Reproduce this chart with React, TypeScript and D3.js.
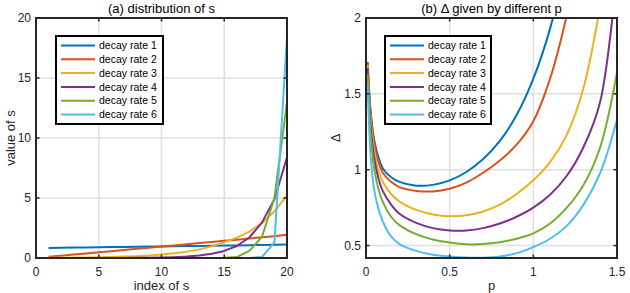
import React, { useEffect, useRef } from 'react';
import * as d3 from 'd3';

// MATLAB default line colours
const lineColors = ['#0072BD', '#D95319', '#EDB120', '#7E2F8E', '#77AC30', '#4DBEEE'];
const seriesNames = ['decay rate 1', 'decay rate 2', 'decay rate 3', 'decay rate 4', 'decay rate 5', 'decay rate 6'];

// (a) distribution of s
const sIndex = [1, 2, 3, 4, 5, 6, 7, 8, 9, 10, 11, 12, 13, 14, 15, 16, 17, 18, 19, 20];
const sRate1 = [0.84, 0.85, 0.87, 0.88, 0.89, 0.91, 0.92, 0.93, 0.95, 0.96, 0.98, 0.99, 1.01, 1.02, 1.04, 1.05, 1.07, 1.08, 1.1, 1.12];
const sRate2 = [0.1, 0.19, 0.29, 0.38, 0.48, 0.57, 0.67, 0.77, 0.86, 0.96, 1.05, 1.15, 1.24, 1.34, 1.43, 1.53, 1.62, 1.72, 1.82, 1.93];
const sRate3 = [0.019, 0.026, 0.035, 0.047, 0.063, 0.085, 0.115, 0.155, 0.21, 0.29, 0.39, 0.53, 0.72, 0.97, 1.3, 1.7, 2.2, 2.9, 3.9, 5.2];
const sRate4 = [0.0004, 0.0006, 0.001, 0.002, 0.003, 0.005, 0.008, 0.014, 0.024, 0.04, 0.07, 0.12, 0.2, 0.35, 0.59, 1.0, 1.71, 2.95, 4.9, 8.4];
const sRate5 = [0, 0, 0, 0, 0, 0, 0, 0, 0, 0, 0, 0.001, 0.004, 0.01, 0.03, 0.08, 0.6, 1.75, 5.0, 13.0];
const sRate6 = [0, 0, 0, 0, 0, 0, 0, 0, 0, 0, 0, 0, 0, 0, 0, 0, 0.005, 0.08, 1.3, 18.4];

// (b) Delta given by different p
const pValues = [0.01, 0.02, 0.03, 0.05, 0.075, 0.1, 0.15, 0.2, 0.3, 0.4, 0.5, 0.6, 0.7, 0.8, 0.9, 1.0, 1.1, 1.2, 1.3, 1.4, 1.5];
const dRate1 = [1.71, 1.5, 1.36, 1.19, 1.08, 1.01, 0.95, 0.92, 0.895, 0.9, 0.93, 0.985, 1.07, 1.19, 1.36, 1.6, 1.93, 2.4, 3.0, 3.7, 4.5];
const dRate2 = [1.7, 1.48, 1.34, 1.17, 1.05, 0.98, 0.92, 0.885, 0.86, 0.857, 0.875, 0.915, 0.98, 1.06, 1.165, 1.32, 1.6, 2.02, 2.6, 3.3, 4.1];
const dRate3 = [1.69, 1.45, 1.3, 1.12, 0.99, 0.92, 0.84, 0.79, 0.735, 0.705, 0.693, 0.7, 0.725, 0.77, 0.84, 0.93, 1.05, 1.23, 1.54, 2.08, 2.8];
const dRate4 = [1.67, 1.42, 1.26, 1.07, 0.94, 0.86, 0.77, 0.71, 0.65, 0.615, 0.6, 0.6, 0.615, 0.645, 0.69, 0.75, 0.835, 0.96, 1.15, 1.45, 2.3];
const dRate5 = [1.63, 1.37, 1.2, 1.0, 0.87, 0.79, 0.69, 0.635, 0.575, 0.54, 0.52, 0.508, 0.51, 0.522, 0.545, 0.58, 0.645, 0.75, 0.9, 1.15, 1.64];
const dRate6 = [1.56, 1.25, 1.06, 0.86, 0.74, 0.66, 0.56, 0.51, 0.465, 0.44, 0.428, 0.421, 0.42, 0.428, 0.45, 0.49, 0.545, 0.63, 0.77, 0.98, 1.33];

const xTicksA = [0, 5, 10, 15, 20];
const yTicksA = [0, 5, 10, 15, 20];
const xTicksB = [0, 0.5, 1, 1.5];
const yTicksB = [0.5, 1, 1.5, 2];

const FONT = '"Liberation Sans", Arial, Helvetica, sans-serif';
const AXIS = '#262626';
const GRID = '#dfdfdf';

const drawPanel = (svg, cfg) => {
  const { id, left, right, top, bottom, xDomain, yDomain, xTicks, yTicks, xs, series, curve, title, xLabel, yLabel, legend } = cfg;
  const x = d3.scaleLinear().domain(xDomain).range([left, right]);
  const y = d3.scaleLinear().domain(yDomain).range([bottom, top]);

  const g = svg.append('g');

  g.append('clipPath').attr('id', id)
    .append('rect')
    .attr('x', left).attr('y', top)
    .attr('width', right - left).attr('height', bottom - top);

  // background
  g.append('rect')
    .attr('x', left).attr('y', top)
    .attr('width', right - left).attr('height', bottom - top)
    .attr('fill', '#fff');

  // grid
  g.selectAll('.gx').data(xTicks).enter().append('line')
    .attr('x1', d => x(d)).attr('x2', d => x(d))
    .attr('y1', top).attr('y2', bottom)
    .attr('stroke', GRID).attr('stroke-width', 1.5);
  g.selectAll('.gy').data(yTicks).enter().append('line')
    .attr('x1', left).attr('x2', right)
    .attr('y1', d => y(d)).attr('y2', d => y(d))
    .attr('stroke', GRID).attr('stroke-width', 1.5);

  // data lines
  const line = d3.line()
    .x((d, i) => x(xs[i]))
    .y(d => y(d))
    .curve(curve);

  g.append('g').attr('clip-path', `url(#${id})`)
    .selectAll('path').data(series).enter().append('path')
    .attr('d', d => line(d))
    .attr('fill', 'none')
    .attr('stroke', (d, i) => lineColors[i])
    .attr('stroke-width', 2)
    .attr('stroke-linejoin', 'round');

  // ticks on all four sides (box on)
  const tl = 3.5;
  xTicks.forEach(t => {
    g.append('line').attr('x1', x(t)).attr('x2', x(t)).attr('y1', bottom).attr('y2', bottom - tl)
      .attr('stroke', AXIS).attr('stroke-width', 1.5);
    g.append('line').attr('x1', x(t)).attr('x2', x(t)).attr('y1', top).attr('y2', top + tl)
      .attr('stroke', AXIS).attr('stroke-width', 1.5);
  });
  yTicks.forEach(t => {
    g.append('line').attr('x1', left).attr('x2', left + tl).attr('y1', y(t)).attr('y2', y(t))
      .attr('stroke', AXIS).attr('stroke-width', 1.5);
    g.append('line').attr('x1', right).attr('x2', right - tl).attr('y1', y(t)).attr('y2', y(t))
      .attr('stroke', AXIS).attr('stroke-width', 1.5);
  });

  // box
  g.append('rect')
    .attr('x', left).attr('y', top)
    .attr('width', right - left).attr('height', bottom - top)
    .attr('fill', 'none')
    .attr('stroke', AXIS).attr('stroke-width', 2);

  // tick labels
  g.selectAll('.xl').data(xTicks).enter().append('text')
    .attr('x', d => x(d)).attr('y', bottom + 18)
    .attr('text-anchor', 'middle')
    .attr('font-family', FONT).attr('font-size', 12).attr('fill', AXIS)
    .text(d => String(d));
  g.selectAll('.yl').data(yTicks).enter().append('text')
    .attr('x', left - 5).attr('y', d => y(d))
    .attr('dy', '0.35em')
    .attr('text-anchor', 'end')
    .attr('font-family', FONT).attr('font-size', 12).attr('fill', AXIS)
    .text(d => String(d));

  // title and axis labels
  g.append('text')
    .attr('x', (left + right) / 2).attr('y', 13)
    .attr('text-anchor', 'middle')
    .attr('font-family', FONT).attr('font-size', 13).attr('fill', '#000')
    .text(title);
  g.append('text')
    .attr('x', (left + right) / 2).attr('y', 290)
    .attr('text-anchor', 'middle')
    .attr('font-family', FONT).attr('font-size', 13).attr('fill', AXIS)
    .text(xLabel);
  g.append('text')
    .attr('transform', `translate(${yLabel.x},${(top + bottom) / 2}) rotate(-90)`)
    .attr('text-anchor', 'middle')
    .attr('font-family', FONT).attr('font-size', 13).attr('fill', AXIS)
    .text(yLabel.text);

  // legend
  const lg = g.append('g');
  lg.append('rect')
    .attr('x', legend.x).attr('y', legend.y)
    .attr('width', legend.w).attr('height', legend.h)
    .attr('fill', '#fff')
    .attr('stroke', '#000').attr('stroke-width', 2);
  seriesNames.forEach((name, i) => {
    const ey = legend.y + 9.5 + i * 13.8;
    lg.append('line')
      .attr('x1', legend.x + 5).attr('x2', legend.x + 39)
      .attr('y1', ey).attr('y2', ey)
      .attr('stroke', lineColors[i]).attr('stroke-width', 2);
    lg.append('text')
      .attr('x', legend.x + 43).attr('y', ey)
      .attr('dy', '0.35em')
      .attr('font-family', FONT).attr('font-size', 10.5).attr('fill', '#000')
      .text(name);
  });
};

const App = () => {
  const svgRef = useRef(null);

  useEffect(() => {
    const svg = d3.select(svgRef.current);
    svg.selectAll('*').remove();

    drawPanel(svg, {
      id: 'clipA',
      left: 36, right: 287, top: 18, bottom: 258,
      xDomain: [0, 20], yDomain: [0, 20],
      xTicks: xTicksA, yTicks: yTicksA,
      xs: sIndex,
      series: [sRate1, sRate2, sRate3, sRate4, sRate5, sRate6],
      curve: d3.curveLinear,
      title: '(a) distribution of s',
      xLabel: 'index of s',
      yLabel: { text: 'value of s', x: 14.5 },
      legend: { x: 56, y: 36, w: 107, h: 88 }
    });

    drawPanel(svg, {
      id: 'clipB',
      left: 366, right: 617, top: 18, bottom: 258,
      xDomain: [0, 1.5], yDomain: [0.418, 2],
      xTicks: xTicksB, yTicks: yTicksB,
      xs: pValues,
      series: [dRate1, dRate2, dRate3, dRate4, dRate5, dRate6],
      curve: d3.curveCatmullRom.alpha(0.5),
      title: '(b) \u0394 given by different p',
      xLabel: 'p',
      yLabel: { text: '\u0394', x: 340 },
      legend: { x: 385, y: 36, w: 106, h: 88 }
    });
  }, []);

  return (
    <svg
      ref={svgRef}
      width={630}
      height={293}
      style={{ position: 'absolute', left: 0, top: 0, background: '#fff' }}
    />
  );
};

export default App;
